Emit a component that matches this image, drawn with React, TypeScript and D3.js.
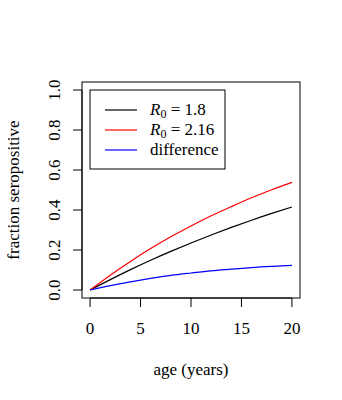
import React from "react";
import * as d3 from "d3";

const ages = [0, 2, 4, 6, 8, 10, 12, 14, 16, 18, 20];
const seroR18 = [0, 0.052, 0.102, 0.149, 0.193, 0.235, 0.275, 0.313, 0.349, 0.383, 0.415];
const seroR216 = [0, 0.074, 0.143, 0.207, 0.266, 0.32, 0.371, 0.417, 0.461, 0.501, 0.538];
const seroDiff = [0, 0.022, 0.041, 0.058, 0.073, 0.085, 0.096, 0.104, 0.112, 0.118, 0.123];
const xTicks = [0, 5, 10, 15, 20];
const yTicks = [0, 0.2, 0.4, 0.6, 0.8, 1.0];

const W = 342;
const H = 400;
const box = { l: 82, r: 300, t: 82, b: 298 };
const FONT = "'Liberation Serif', 'Times New Roman', serif";
const FS = 17;

export default function App() {
  const x = d3.scaleLinear().domain([-0.8, 20.8]).range([box.l, box.r]);
  const y = d3.scaleLinear().domain([-0.04, 1.04]).range([box.b, box.t]);
  const line = (vals: number[]) =>
    d3
      .line<number>()
      .x((_, i) => x(ages[i]))
      .y((v) => y(v))
      .curve(d3.curveNatural)(vals) as string;

  const series = [
    { vals: seroR18, color: "#000000" },
    { vals: seroR216, color: "#ff0000" },
    { vals: seroDiff, color: "#0000ff" },
  ];

  const legend = [
    { color: "#000000", label: "1.8", r0: true },
    { color: "#ff0000", label: "2.16", r0: true },
    { color: "#0000ff", label: "difference", r0: false },
  ];

  return (
    <svg
      width={W}
      height={H}
      style={{ position: "absolute", left: 0, top: 0, background: "#fff" }}
      fontFamily={FONT}
      fontSize={FS}
    >
      <rect x={0} y={0} width={W} height={H} fill="#fff" />
      {series.map((s, i) => (
        <path key={i} d={line(s.vals)} fill="none" stroke={s.color} strokeWidth={1.2} />
      ))}
      <rect
        x={box.l}
        y={box.t}
        width={box.r - box.l}
        height={box.b - box.t}
        fill="none"
        stroke="#000"
        strokeWidth={1}
      />
      {/* x axis */}
      <line x1={x(0)} x2={x(20)} y1={box.b} y2={box.b} stroke="#000" />
      {xTicks.map((t) => (
        <g key={t}>
          <line x1={x(t)} x2={x(t)} y1={box.b} y2={box.b + 9} stroke="#000" />
          <text x={x(t)} y={334} textAnchor="middle" fill="#000">
            {t}
          </text>
        </g>
      ))}
      {/* y axis */}
      <line x1={box.l} x2={box.l} y1={y(0)} y2={y(1)} stroke="#000" />
      {yTicks.map((t) => (
        <g key={t}>
          <line x1={box.l - 9} x2={box.l} y1={y(t)} y2={y(t)} stroke="#000" />
          <text
            transform={`translate(60,${y(t)}) rotate(-90)`}
            textAnchor="middle"
            fill="#000"
          >
            {t.toFixed(1)}
          </text>
        </g>
      ))}
      <text x={(box.l + box.r) / 2} y={375} textAnchor="middle" fill="#000">
        age (years)
      </text>
      <text
        transform={`translate(19,${(box.t + box.b) / 2}) rotate(-90)`}
        textAnchor="middle"
        fill="#000"
      >
        fraction seropositive
      </text>
      {/* legend */}
      <rect x={90} y={90} width={135} height={79} fill="#fff" stroke="#000" strokeWidth={1} />
      {legend.map((d, i) => {
        const yy = 110 + i * 20;
        return (
          <g key={i}>
            <line x1={105} x2={137} y1={yy} y2={yy} stroke={d.color} strokeWidth={1.2} />
            <text x={150} y={yy + 5} fill="#000">
              {d.r0 ? (
                <>
                  <tspan fontStyle="italic">R</tspan>
                  <tspan fontSize={12} dy={3}>0</tspan>
                  <tspan dy={-3}>{` = ${d.label}`}</tspan>
                </>
              ) : (
                d.label
              )}
            </text>
          </g>
        );
      })}
    </svg>
  );
}
